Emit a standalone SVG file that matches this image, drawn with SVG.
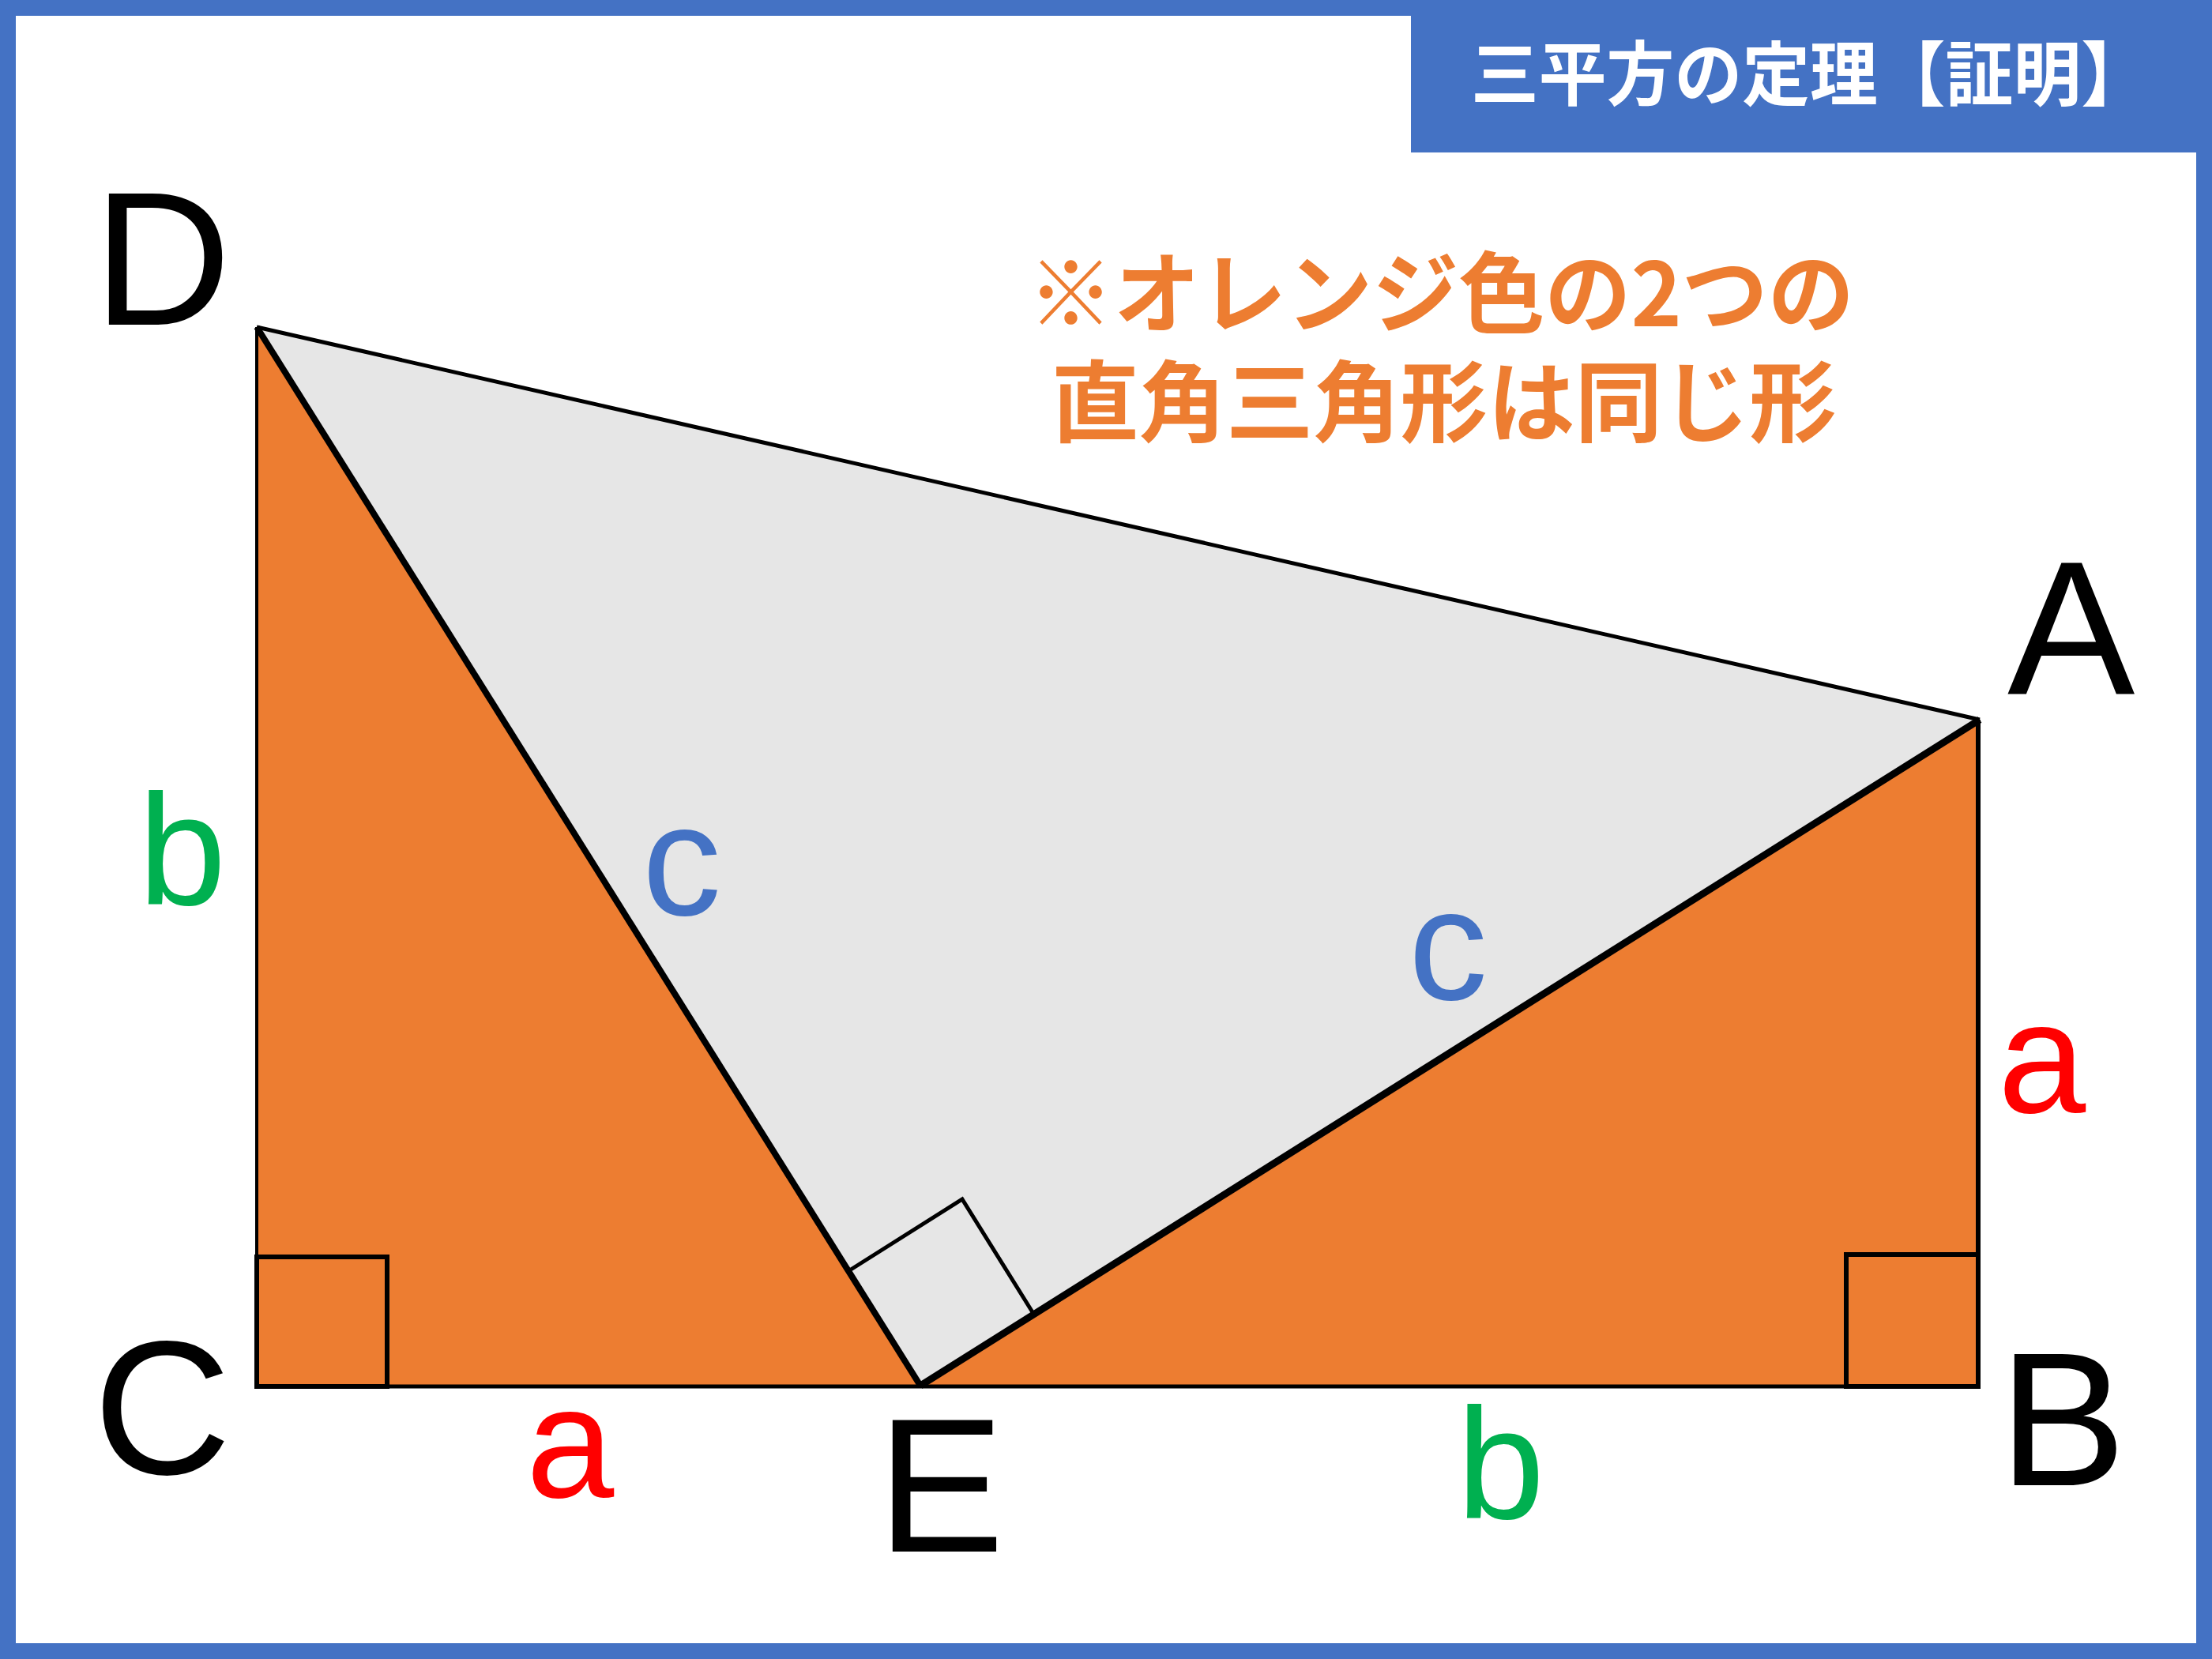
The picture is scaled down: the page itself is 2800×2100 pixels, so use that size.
<svg xmlns="http://www.w3.org/2000/svg" width="2800" height="2100" viewBox="0 0 2800 2100">
<style>
.lbl{font-family:"Liberation Sans",Arial,sans-serif;}
.big{font-size:242px;fill:#000;}
.sm{font-size:200px;}
.jp{font-family:"Noto Sans CJK JP","Noto Sans",sans-serif;font-weight:bold;}
.ln{stroke:#000;fill:none;stroke-linejoin:miter;}
.sq{stroke:#000;stroke-width:6;fill:none;}
</style>
<rect x="10" y="10" width="2780" height="2080" fill="#fff" stroke="#4472C4" stroke-width="20"/>
<g id="title">
<rect x="1786" y="0" width="1014" height="193" fill="#4472C4"/>
<text class="jp" x="1862" y="126" font-size="89" fill="#fff" textLength="858" lengthAdjust="spacingAndGlyphs">三平方の定理【証明】</text>
</g>
<g id="note">
<text class="jp" x="1301" y="413" font-size="112" fill="#ED7D31" textLength="1046" lengthAdjust="spacingAndGlyphs">※オレンジ色の2つの</text>
<text class="jp" x="1331" y="551" font-size="112" fill="#ED7D31" textLength="994" lengthAdjust="spacingAndGlyphs">直角三角形は同じ形</text>
</g>
<g id="tri-DEA">
<polygon points="325,414 1165,1752 2504,911" fill="#E6E6E6"/>
</g>
<g id="tri-DCE">
<polygon points="325,414 325,1755 1165,1755" fill="#ED7D31"/>
<rect class="sq" x="325" y="1591" width="165" height="164"/>
</g>
<g id="tri-EBA">
<polygon points="1165,1755 2504,1755 2504,911" fill="#ED7D31"/>
<rect class="sq" x="2337" y="1588" width="167" height="167"/>
</g>
<g id="connectors">
<line class="ln" x1="325" y1="414" x2="2506" y2="911" stroke-width="5"/>
<line class="ln" x1="325" y1="414" x2="1165" y2="1754" stroke-width="8"/>
<line class="ln" x1="1165" y1="1754" x2="2506" y2="911" stroke-width="9"/>
<line class="ln" x1="325" y1="414" x2="325" y2="1757" stroke-width="4"/>
<line class="ln" x1="2504" y1="911" x2="2504" y2="1757" stroke-width="6"/>
<line class="ln" x1="322" y1="1755" x2="2507" y2="1755" stroke-width="5"/>
<polyline class="ln" points="1077,1607 1218,1518 1307,1661" stroke-width="5"/>
</g>
<g id="labels">
<text class="lbl big" x="118" y="411">D</text>
<text class="lbl big" x="2541" y="879">A</text>
<text class="lbl big" x="118" y="1866">C</text>
<text class="lbl big" x="1110" y="1964">E</text>
<text class="lbl big" x="2530" y="1880">B</text>
<text class="lbl sm" x="175" y="1145" fill="#00B050">b</text>
<text class="lbl sm" x="813" y="1158" fill="#4472C4">c</text>
<text class="lbl sm" x="1783" y="1265" fill="#4472C4">c</text>
<text class="lbl sm" x="2529" y="1408" fill="#FF0000">a</text>
<text class="lbl sm" x="666" y="1895" fill="#FF0000">a</text>
<text class="lbl sm" x="1844" y="1922" fill="#00B050">b</text>
</g>
</svg>
